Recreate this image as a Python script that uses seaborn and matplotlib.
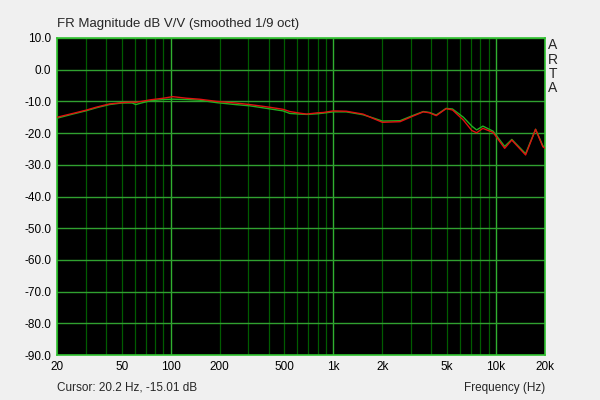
import pandas as pd
import matplotlib.pyplot as plt
import matplotlib.ticker as mticker
import seaborn as sns

freq_hz = [20, 25, 30, 35, 42, 50, 58, 61, 66, 75, 90, 103, 125, 150, 192, 250,
           307, 400, 491, 540, 620, 686, 800, 867, 1000, 1200, 1520, 1800, 2000,
           2570, 3100, 3570, 3900, 4290, 4930, 5400, 6300, 7100, 7600, 8300,
           9600, 11300, 12500, 15200, 17500, 19400, 20000]
red_db = [-15.0, -13.8, -12.8, -11.8, -10.8, -10.4, -10.2, -10.3, -10.0, -9.5,
          -9.0, -8.5, -9.0, -9.3, -10.0, -10.5, -11.0, -11.8, -12.5, -13.2,
          -13.7, -14.0, -13.6, -13.5, -13.0, -13.1, -14.0, -15.6, -16.6, -16.4,
          -14.6, -13.3, -13.6, -14.5, -12.3, -12.7, -15.9, -19.2, -19.9, -18.5,
          -19.8, -24.8, -22.2, -26.9, -18.8, -24.3, -24.8]
green_db = [-15.3, -14.0, -13.0, -12.0, -11.0, -10.5, -10.5, -11.0, -10.5, -9.8,
            -9.4, -9.3, -9.4, -9.6, -10.4, -11.0, -11.4, -12.3, -13.0, -13.8,
            -14.0, -14.1, -13.9, -13.7, -13.3, -13.3, -14.2, -15.4, -16.2, -16.1,
            -14.4, -13.2, -13.5, -14.3, -12.2, -12.4, -15.0, -17.8, -19.0, -17.8,
            -19.4, -24.2, -22.0, -26.5, -18.8, -24.0, -24.6]

x_ticks = [20, 50, 100, 200, 500, 1000, 2000, 5000, 10000, 20000]
x_labels = ["20", "50", "100", "200", "500", "1k", "2k", "5k", "10k", "20k"]
y_ticks = list(range(-90, 11, 10))

df = pd.DataFrame({
    "freq": freq_hz * 2,
    "db": green_db + red_db,
    "ch": ["green"] * len(freq_hz) + ["red"] * len(freq_hz),
})

sns.set_style("dark")
plt.rcParams["font.family"] = ["Liberation Sans", "DejaVu Sans"]

fig = plt.figure(figsize=(6, 4), dpi=100, facecolor="#f0f0f0")
ax = fig.add_axes([57 / 600, 45 / 400, 488 / 600, 317 / 400])
ax.set_facecolor("black")

ax.set_xscale("log")
ax.set_xlim(20, 20000)
ax.set_ylim(-90, 10)

# grid: minor decades dark green, decade and dB lines brighter
minor = [m * 10 ** e for e in range(1, 5) for m in range(2, 10) if 20 <= m * 10 ** e <= 20000]
for f in minor:
    ax.axvline(f, color="#005c00", lw=0.9, zorder=1)
for f in [100, 1000, 10000]:
    ax.axvline(f, color="#30b030", lw=1.0, zorder=1)
for y in y_ticks:
    ax.axhline(y, color="#30a030", lw=1.0, zorder=1)

sns.lineplot(data=df, x="freq", y="db", hue="ch",
             palette={"green": "#20b020", "red": "#e01010"},
             lw=1.0, legend=False, ax=ax, zorder=3, sort=False,
             estimator=None)

ax.xaxis.set_major_locator(mticker.FixedLocator(x_ticks))
ax.xaxis.set_major_formatter(mticker.FixedFormatter(x_labels))
ax.xaxis.set_minor_locator(mticker.NullLocator())
ax.set_yticks(y_ticks)
ax.set_yticklabels([f"{v:.1f}" for v in y_ticks])
ax.tick_params(length=0, labelsize=8.5, colors="#000000", pad=4)
ax.set_xlabel("")
ax.set_ylabel("")
ax.grid(False)
for s in ax.spines.values():
    s.set_color("#30c030")
    s.set_linewidth(1.2)

fig.text(57 / 600, 1 - 24 / 400, "FR Magnitude dB V/V (smoothed 1/9 oct)",
         fontsize=9.5, va="center", ha="left")
fig.text(57 / 600, 1 - 388 / 400, "Cursor: 20.2 Hz, -15.01 dB",
         fontsize=8.5, va="center", ha="left")
fig.text(545 / 600, 1 - 388 / 400, "Frequency (Hz)",
         fontsize=8.5, va="center", ha="right")
for i, ch in enumerate("ARTA"):
    fig.text(553 / 600, 1 - (45 + i * 14.5) / 400, ch, fontsize=10,
             va="center", ha="center")

fig.savefig("out.png", dpi=100, facecolor=fig.get_facecolor())
